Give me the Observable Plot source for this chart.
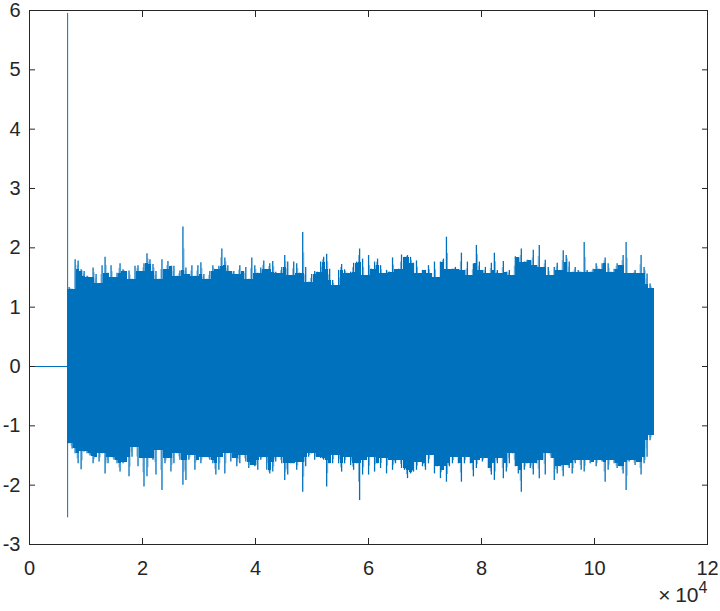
<!DOCTYPE html>
<html><head><meta charset="utf-8">
<script src="https://cdn.jsdelivr.net/npm/d3@7"></script>
<script src="https://cdn.jsdelivr.net/npm/@observablehq/plot@0.6"></script>
<style>body{margin:0;background:#fff} svg{display:block}</style>
</head><body><div id="chart"></div>
<script>
// tick values (x in samples, labelled in units of 10^4)
const xTicks = [0, 20000, 40000, 60000, 80000, 100000, 120000];
const yTicks = [-3, -2, -1, 0, 1, 2, 3, 4, 5, 6];

// silent lead-in before the signal starts
const leadX = [1, 6750];
const leadY = [0, 0];

// first-sample spike
const spikeX = [6750];
const spikeLow = [-2.55];
const spikeHigh = [5.95];

// envelope of the noise: one bin every 530 samples starting at sample 6750
const binStart = 6750;
const binStep = 530;
const upper = [
1.33,1.30,1.80,1.78,1.63,1.60,1.52,1.50,1.66,1.55,
1.40,1.70,1.84,1.57,1.70,1.50,1.57,1.73,1.63,1.60,
1.61,1.47,1.69,1.70,1.60,1.73,1.90,1.80,1.72,1.60,
1.47,1.80,1.63,1.77,1.69,1.69,1.52,1.61,2.35,1.66,
1.55,1.70,1.52,1.70,1.75,1.55,1.47,1.60,1.70,1.63,
1.69,1.98,1.83,1.70,1.60,1.60,1.55,1.70,1.60,1.67,
1.47,1.83,1.70,1.57,1.66,1.78,1.63,1.73,
1.77,1.59,1.56,1.67,1.87,1.76,1.53,1.76,1.73,1.57,
2.26,1.67,1.42,1.55,1.60,1.59,1.76,1.84,1.89,1.64,
1.45,1.36,1.62,1.72,1.63,1.57,1.59,1.74,1.76,1.98,
1.81,1.53,1.87,1.64,1.76,1.81,1.70,1.56,1.62,1.59,
1.83,1.63,1.64,1.88,1.84,1.87,1.84,1.74,1.78,1.56,
1.62,1.62,1.70,1.56,1.76,1.50,1.76,1.81,2.18,1.63,
1.64,1.67,1.63,1.91,1.62,1.76,1.53,1.73,2.04,1.76,
1.62,1.67,1.56,1.74,1.91,1.62,1.56,1.77,1.59,1.62,
1.53,1.85,1.83,1.98,1.76,1.79,1.78,1.96,1.70,2.04,
1.67,1.79,1.67,1.53,1.67,1.74,1.62,1.95,1.87,1.76,
1.59,1.67,1.62,1.59,2.09,1.62,1.59,1.64,1.73,1.64,
1.73,1.83,1.73,1.59,1.64,1.73,1.70,1.87,2.09,1.56,
1.56,1.62,1.56,1.87,1.67,1.56,1.39,1.31
];
const lower = [
-1.30,-1.39,-1.47,-1.64,-1.74,-1.44,-1.47,-1.51,-1.64,-1.53,
-1.61,-1.47,-1.81,-1.64,-1.53,-1.58,-1.64,-1.78,-1.64,-1.61,
-1.86,-1.53,-1.36,-1.69,-1.55,-2.03,-1.86,-1.55,-1.58,-1.83,
-1.41,-2.09,-1.64,-1.55,-1.78,-1.64,-1.47,-1.58,-2.00,-1.92,
-1.58,-1.50,-1.75,-1.58,-1.64,-1.53,-1.53,-1.58,-1.64,-1.83,
-1.75,-1.53,-1.81,-1.47,-1.61,-1.55,-1.69,-1.64,-1.50,-1.61,
-1.72,-1.67,-1.69,-1.75,-1.58,-1.53,-1.75,-1.81,
-1.78,-1.61,-1.53,-1.64,-1.92,-1.83,-1.64,-1.64,-1.75,-1.61,
-2.12,-1.69,-1.53,-1.47,-1.58,-1.53,-1.55,-1.58,-2.03,-1.64,
-1.64,-1.50,-1.64,-1.78,-1.64,-1.53,-1.67,-1.75,-1.64,-2.26,
-1.83,-1.58,-1.83,-1.53,-1.78,-1.64,-1.72,-1.55,-1.81,-1.58,
-1.75,-1.64,-1.58,-1.72,-1.75,-1.89,-1.81,-1.78,-1.75,-1.61,
-1.69,-1.75,-1.64,-1.50,-1.81,-1.69,-1.89,-1.75,-1.95,-1.69,
-1.64,-1.53,-1.64,-1.95,-1.64,-1.53,-1.64,-1.86,-1.72,-1.58,
-1.61,-1.55,-1.72,-1.83,-1.92,-1.64,-1.55,-1.89,-1.78,-1.64,
-1.47,-1.69,-1.81,-2.12,-1.75,-1.64,-1.72,-1.83,-1.64,-1.89,
-1.58,-1.83,-1.47,-1.55,-1.92,-1.81,-1.69,-1.86,-1.67,-1.72,
-1.81,-1.64,-1.58,-1.75,-1.78,-1.58,-1.64,-1.61,-1.69,-1.58,
-1.61,-1.95,-1.75,-1.58,-1.64,-1.72,-1.69,-1.81,-2.09,-1.61,
-1.58,-1.67,-1.61,-1.83,-1.64,-1.53,-1.25,-1.16
];

const blue = "#0072BD";
const lightBlue = "#7fb5dc";
const axisColor = "#262626";
const font = "'Liberation Sans', Arial, Helvetica, sans-serif";

// each bin: a solid core (the lowest neighbouring extreme) and a thin spike to its own extreme
const n = upper.length;
const bins = upper.map((hi, i) => {
  const a = Math.max(0, i - 1), b = Math.min(n - 1, i + 1);
  return {
    x1: binStart + i * binStep,
    x2: binStart + (i + 1) * binStep,
    xm: binStart + (i + 0.5) * binStep,
    xs: binStart + (i + (i % 2 ? 0.15 : 0.85)) * binStep,
    lo: lower[i],
    hi,
    coreHi: Math.min(upper[a], hi, upper[b]),
    coreLo: Math.max(lower[a], lower[i], lower[b])
  };
});
const lead = leadX.map((x, i) => ({x, y: leadY[i]}));
const spikes = spikeX.map((x, i) => ({x, y1: spikeLow[i], y2: spikeHigh[i]}));

const chart = Plot.plot({
  width: 720,
  height: 611,
  marginLeft: 29,
  marginRight: 13,
  marginTop: 10,
  marginBottom: 67,
  style: {fontFamily: font, fontSize: "20px", color: axisColor, background: "#fff"},
  x: {domain: [0, 120000]},
  y: {domain: [-3, 6]},
  marks: [
    Plot.ruleX(bins, {x: "xs", y1: d => (d.lo + d.coreLo) / 2, y2: d => (d.hi + d.coreHi) / 2, stroke: lightBlue, strokeWidth: 1}),
    Plot.rect(bins, {x1: "x1", x2: "x2", y1: "coreLo", y2: "coreHi", fill: blue, shapeRendering: "crispEdges"}),
    Plot.ruleX(bins, {x: "xm", y1: "lo", y2: "hi", stroke: blue, strokeWidth: 1.3}),
    Plot.line(lead, {x: "x", y: "y", stroke: blue, strokeWidth: 1}),
    Plot.ruleX(spikes, {x: "x", y1: "y1", y2: "y2", stroke: blue, strokeWidth: 1}),
    Plot.frame({stroke: axisColor, strokeWidth: 1}),
    Plot.axisX(xTicks, {anchor: "bottom", tickSize: -6, tickPadding: 22, tickFormat: d => String(d / 1e4), label: null, fontSize: 20, stroke: axisColor}),
    Plot.axisX(xTicks, {anchor: "top", tickSize: -6, tickFormat: () => "", label: null, stroke: axisColor}),
    Plot.axisY(yTicks, {anchor: "left", tickSize: -6, tickPadding: 15, tickFormat: d => String(d), label: null, fontSize: 20, stroke: axisColor}),
    Plot.axisY(yTicks, {anchor: "right", tickSize: -6, tickFormat: () => "", label: null, stroke: axisColor}),
    Plot.text(["10"], {frameAnchor: "bottom-right", dx: -9, dy: 57, textAnchor: "end", fontSize: 21, fill: axisColor}),
    Plot.text(["×"], {frameAnchor: "bottom-right", dx: -37, dy: 57, textAnchor: "end", fontSize: 21, fill: axisColor}),
    Plot.text(["4"], {frameAnchor: "bottom-right", dx: 0, dy: 48, textAnchor: "end", fontSize: 16, fill: axisColor})
  ]
});
document.getElementById("chart").appendChild(chart);
</script>
</body></html>
